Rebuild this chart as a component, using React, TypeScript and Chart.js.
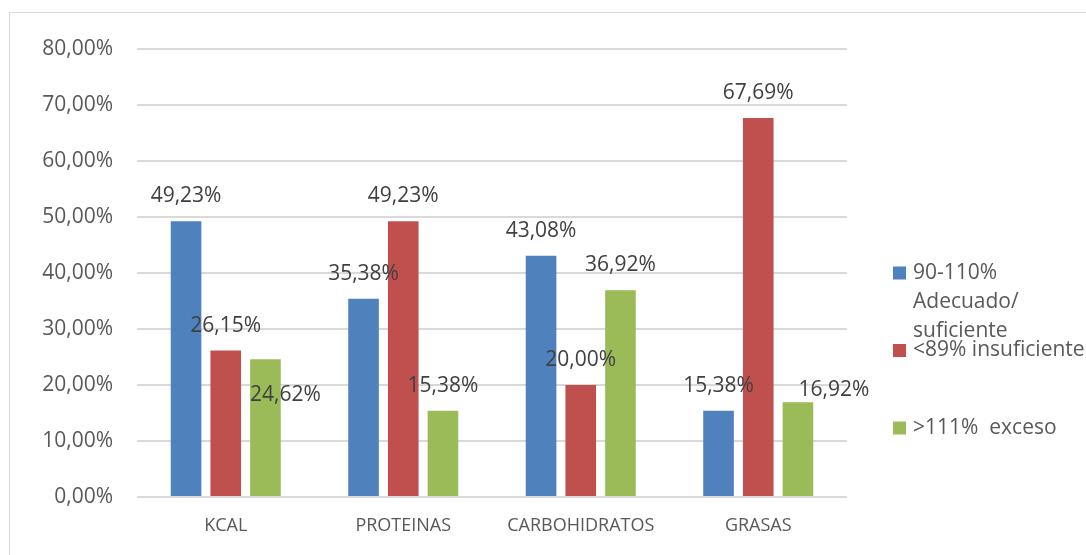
import React, { useEffect, useRef } from "react";
import { Chart, registerables } from "chart.js";

Chart.register(...registerables);

const categories = ["KCAL", "PROTEINAS", "CARBOHIDRATOS", "GRASAS"];
const seriesNames = ["90-110% Adecuado/ suficiente", "<89% insuficiente", ">111%  exceso"];
const adecuado = [49.23, 35.38, 43.08, 15.38];
const insuficiente = [26.15, 49.23, 20.0, 67.69];
const exceso = [24.62, 15.38, 36.92, 16.92];
const yMin = 0;
const yMax = 80;
const yStep = 10;

const seriesColors = ["#4F81BD", "#C0504D", "#9BBB59"];

const FONT = "'Open Sans', 'DejaVu Sans', sans-serif";
const fmt = (v: number) => v.toFixed(2).replace(".", ",") + "%";

// label nudges (dx, dy) in pixels for labels moved off their default spot; key = "series-category"
const labelNudges: Record<string, [number, number]> = {
  "2-0": [20, 61],
  "2-3": [36, 12.5],
};

const dataLabelPlugin = {
  id: "dataLabels",
  afterDatasetsDraw(chart: any) {
    const ctx = chart.ctx;
    ctx.save();
    ctx.font = `21px ${FONT}`;
    ctx.fillStyle = "#404040";
    ctx.textAlign = "center";
    ctx.textBaseline = "middle";
    chart.data.datasets.forEach((ds: any, si: number) => {
      const meta = chart.getDatasetMeta(si);
      meta.data.forEach((bar: any, ci: number) => {
        const n = labelNudges[`${si}-${ci}`] || [0, 0];
        ctx.fillText(fmt(ds.data[ci]), bar.x + n[0], bar.y - 25 + n[1]);
      });
    });
    ctx.restore();
  },
};

function wrapText(ctx: CanvasRenderingContext2D, text: string, maxW: number): string[] {
  const words = text.split(" ");
  const lines: string[] = [];
  let cur = "";
  words.forEach((w, i) => {
    const test = i === 0 ? w : cur + " " + w;
    if (i > 0 && w !== "" && ctx.measureText(test).width > maxW && cur.trim() !== "") {
      lines.push(cur);
      cur = w;
    } else {
      cur = test;
    }
  });
  lines.push(cur);
  return lines;
}

const sideLegendPlugin = {
  id: "sideLegend",
  afterDraw(chart: any) {
    const ctx = chart.ctx;
    const area = chart.chartArea;
    const boxX = area.right + 46;
    const textX = boxX + 20;
    ctx.save();
    ctx.font = `21px ${FONT}`;
    ctx.textAlign = "left";
    ctx.textBaseline = "middle";
    chart.data.datasets.forEach((ds: any, i: number) => {
      const cy = area.top + 224 + i * 77.5;
      ctx.fillStyle = ds.backgroundColor;
      ctx.fillRect(boxX, cy - 6.5, 13, 13);
      ctx.fillStyle = "#595959";
      const lines = wrapText(ctx, ds.label, 182);
      lines.forEach((ln, j) => ctx.fillText(ln, textX, cy + j * 29));
    });
    ctx.restore();
  },
};

export default function App() {
  const canvasRef = useRef<HTMLCanvasElement | null>(null);

  useEffect(() => {
    if (!canvasRef.current) return;
    const series = [adecuado, insuficiente, exceso];
    const chart = new Chart(canvasRef.current, {
      type: "bar",
      data: {
        labels: categories,
        datasets: series.map((d, i) => ({
          label: seriesNames[i],
          data: d,
          backgroundColor: seriesColors[i],
          borderWidth: 0,
          categoryPercentage: 0.671,
          barPercentage: 0.771,
        })),
      },
      options: {
        animation: false,
        responsive: false,
        maintainAspectRatio: false,
        layout: { padding: { left: 0, top: 0, right: 239, bottom: 0 } },
        plugins: {
          legend: { display: false },
          tooltip: { enabled: false },
          title: { display: false },
        },
        scales: {
          x: {
            grid: { display: false, drawTicks: false },
            border: { display: false },
            ticks: {
              color: "#595959",
              font: { family: FONT, size: 18 },
              padding: 18,
            },
            afterFit: (s: any) => {
              s.height = 58;
            },
          },
          y: {
            min: yMin,
            max: yMax,
            grid: { color: "#D9D9D9", lineWidth: 2, drawTicks: false },
            border: { display: false },
            ticks: {
              stepSize: yStep,
              color: "#595959",
              font: { family: FONT, size: 21 },
              padding: 24,
              callback: (v: any) => fmt(Number(v)),
            },
            afterFit: (s: any) => {
              s.width = 137;
              s.paddingTop = 49;
              s.paddingBottom = 0;
            },
          },
        },
      },
      plugins: [dataLabelPlugin, sideLegendPlugin],
    });
    return () => chart.destroy();
  }, []);

  return (
    <div
      style={{
        position: "fixed",
        left: 0,
        top: 0,
        width: 1086,
        height: 555,
        overflow: "hidden",
        background: "#ffffff",
      }}
    >
      <div
        style={{
          position: "absolute",
          left: 9,
          top: 12,
          width: 1200,
          height: 700,
          border: "1px solid #D9D9D9",
          boxSizing: "border-box",
        }}
      />
      <canvas
        ref={canvasRef}
        width={1086}
        height={555}
        style={{ position: "absolute", left: 0, top: 0, width: 1086, height: 555 }}
      />
    </div>
  );
}
